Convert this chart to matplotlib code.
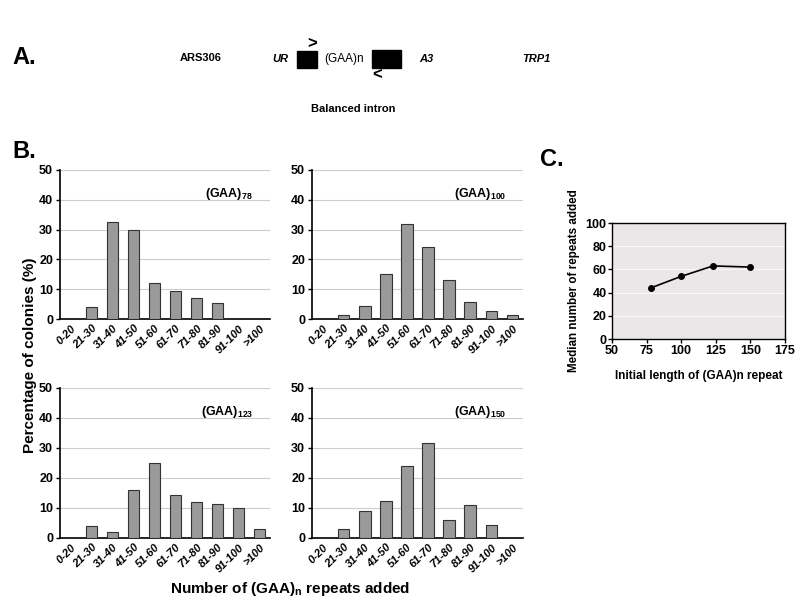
import matplotlib
matplotlib.use('Agg')
import matplotlib.pyplot as plt
import matplotlib.patches as mpatches
import numpy as np

plt.rcParams['font.family'] = ['Liberation Sans', 'DejaVu Sans']
plt.rcParams['mathtext.fontset'] = 'custom'
plt.rcParams['mathtext.rm'] = 'Liberation Sans'
plt.rcParams['mathtext.bf'] = 'Liberation Sans:bold'
plt.rcParams['mathtext.it'] = 'Liberation Sans:italic'

categories = ['0-20', '21-30', '31-40', '41-50', '51-60', '61-70',
              '71-80', '81-90', '91-100', '>100']
gaa78 = [0, 4, 32.5, 30, 12.2, 9.5, 7, 5.5, 0, 0]
gaa100 = [0, 1.5, 4.2, 15, 32, 24, 13, 5.6, 2.8, 1.4]
gaa123 = [0, 4, 2, 16, 25, 14.5, 12, 11.5, 10, 3]
gaa150 = [0, 3, 9, 12.5, 24, 31.7, 6, 11, 4.5, 0]
panel_names = ['78', '100', '123', '150']

initial_len = [78, 100, 123, 150]
median_added = [44, 54, 63, 62]

W, H = 800, 604
fig = plt.figure(figsize=(8, 6.04), dpi=100)


def px_axes(x0, y0, x1, y1):
    # pixel box (top-left origin) -> figure fraction
    return fig.add_axes([x0 / W, 1 - y1 / H, (x1 - x0) / W, (y1 - y0) / H])


def ftext(xp, yp, s, **kw):
    kw.setdefault('ha', 'center')
    kw.setdefault('va', 'center')
    fig.text(xp / W, 1 - yp / H, s, **kw)


# ---- panel A: schematic
ftext(12, 58, 'A.', fontsize=17, fontweight='bold', ha='left')
ftext(201, 58, 'ARS306', fontsize=8, fontweight='bold')
ftext(280, 59, 'UR', fontsize=8, fontweight='bold', style='italic')
ftext(344, 59, '(GAA)n', fontsize=8.5)
ftext(426, 59, 'A3', fontsize=8, fontweight='bold', style='italic')
ftext(536, 59, 'TRP1', fontsize=8, fontweight='bold', style='italic')
ftext(353, 109, 'Balanced intron', fontsize=8, fontweight='bold')
fig.patches.append(mpatches.Rectangle((297 / W, 1 - 68 / H), 20 / W, 17 / H,
                                      transform=fig.transFigure, color='black'))
fig.patches.append(mpatches.Rectangle((372 / W, 1 - 68 / H), 29 / W, 18 / H,
                                      transform=fig.transFigure, color='black'))
ftext(312, 44, '>', fontsize=12, fontweight='bold')
ftext(377, 75, '<', fontsize=12, fontweight='bold')

# ---- panel B: histograms
ftext(12, 152, 'B.', fontsize=17, fontweight='bold', ha='left')
boxes = [(60, 170, 270, 319), (312, 170, 523, 319),
         (60, 388, 270, 538), (312, 388, 523, 538)]
series = [gaa78, gaa100, gaa123, gaa150]
x = np.arange(len(categories))
for box, vals, name in zip(boxes, series, panel_names):
    ax = px_axes(*box)
    ax.bar(x, vals, width=0.55, color='#9a9a9a', edgecolor='#333333', linewidth=0.8, zorder=3)
    ax.set_xlim(-0.5, 9.5)
    ax.set_ylim(0, 50)
    ax.set_yticks([0, 10, 20, 30, 40, 50])
    ax.yaxis.grid(True, color='#cccccc', linewidth=0.8, zorder=0)
    ax.set_xticks(x)
    ax.set_xticklabels(categories, rotation=45, ha='right', rotation_mode='anchor',
                       fontsize=8, fontweight='bold', style='italic')
    for lab in ax.get_yticklabels():
        lab.set_fontweight('bold')
        lab.set_fontsize(9)
    ax.tick_params(axis='x', length=0, pad=3)
    ax.tick_params(axis='y', length=3, width=1, pad=2)
    for s in ['top', 'right']:
        ax.spines[s].set_visible(False)
    ax.spines['left'].set_linewidth(1.2)
    ax.spines['bottom'].set_linewidth(1.2)
    ax.text(0.92, 0.84, r'$\mathbf{(GAA)_{' + name + '}}$', transform=ax.transAxes,
            ha='right', va='center', fontsize=9)

ftext(30, 355, 'Percentage of colonies (%)', rotation=90, fontsize=11, fontweight='bold')
ftext(290, 589, r'Number of (GAA)$_\mathbf{n}$ repeats added', fontsize=11, fontweight='bold')

# ---- panel C: median line plot
ftext(540, 160, 'C.', fontsize=17, fontweight='bold', ha='left')
axc = px_axes(612, 223, 785, 339)
axc.set_facecolor('#ebe7e9')
axc.plot(initial_len, median_added, color='black', marker='o', markersize=4, linewidth=1.2, zorder=3)
axc.set_xlim(50, 175)
axc.set_ylim(0, 100)
axc.set_xticks([50, 75, 100, 125, 150, 175])
axc.set_yticks([0, 20, 40, 60, 80, 100])
axc.yaxis.grid(True, color='#f7f7f7', linewidth=0.8, zorder=0)
for lab in axc.get_xticklabels() + axc.get_yticklabels():
    lab.set_fontweight('bold')
    lab.set_fontsize(9)
axc.tick_params(length=3, width=1, pad=1)
for s in axc.spines.values():
    s.set_linewidth(1.0)
axc.set_ylabel('Median number of repeats added', fontsize=8.4, fontweight='bold', labelpad=4)
axc.set_xlabel('Initial length of (GAA)n repeat', fontsize=8.5, fontweight='bold', labelpad=10)

fig.savefig('out.png', dpi=100)
